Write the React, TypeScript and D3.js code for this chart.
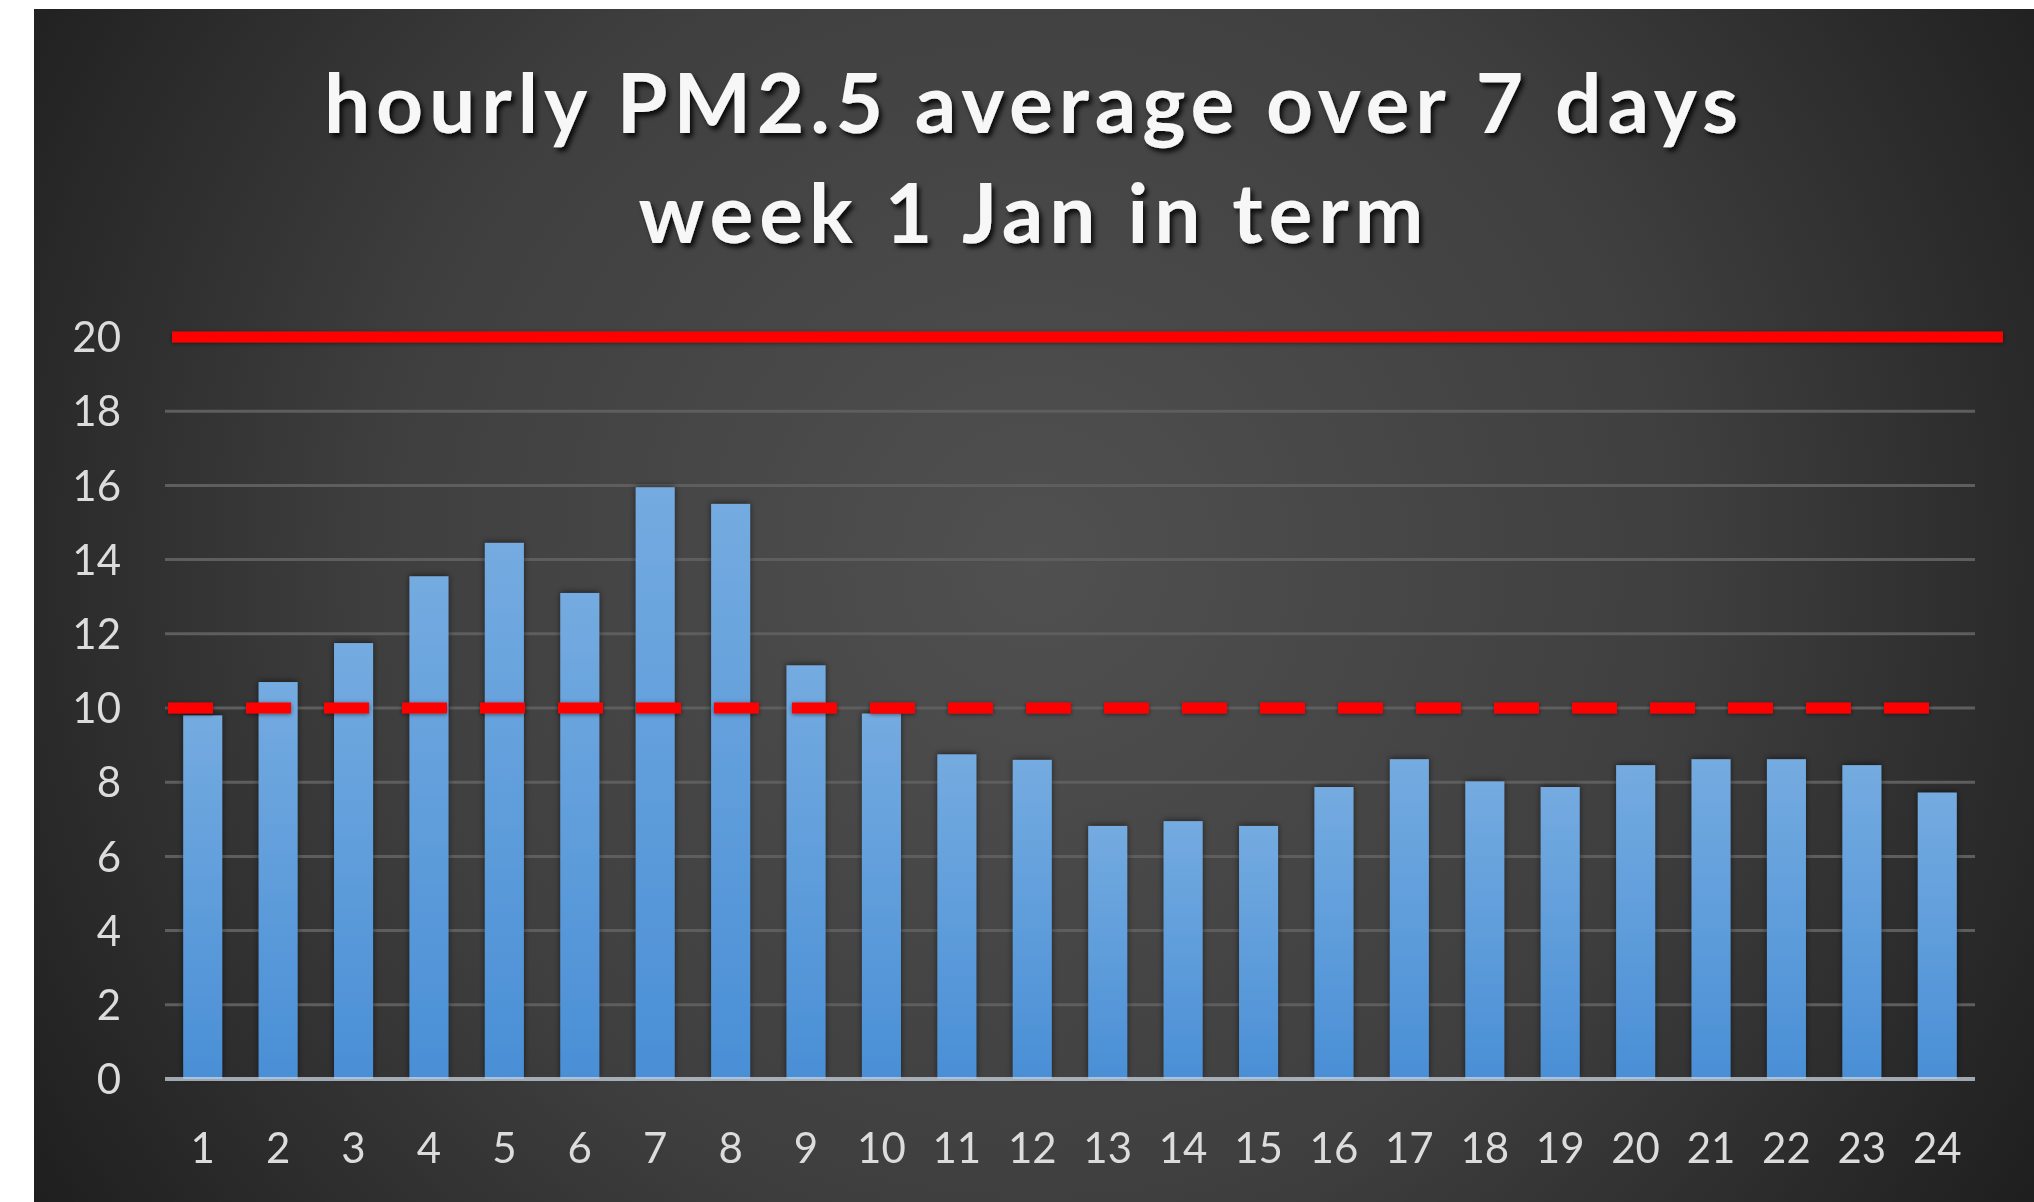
import React from 'react';
import * as d3 from 'd3';

// chart data
const titleLines = ['hourly PM2.5 average over 7 days', 'week 1 Jan in term'];
const hours = ['1', '2', '3', '4', '5', '6', '7', '8', '9', '10', '11', '12',
  '13', '14', '15', '16', '17', '18', '19', '20', '21', '22', '23', '24'];
const pm25 = [9.8, 10.7, 11.75, 13.55, 14.45, 13.1, 15.95, 15.5, 11.15, 9.85, 8.75, 8.6,
  6.82, 6.95, 6.82, 7.87, 8.62, 8.02, 7.87, 8.46, 8.62, 8.62, 8.46, 7.72];
const yTicks = [0, 2, 4, 6, 8, 10, 12, 14, 16, 18, 20];
const upperLimit = 20;   // solid red line
const lowerLimit = 10;   // dashed red line

const W = 2034;
const H = 1202;
const FONT = 'Lato, "Open Sans", sans-serif';

export default function App() {
  const x = d3.scaleBand<string>()
    .domain(hours)
    .range([165, 1975])
    .paddingInner(0.483)
    .paddingOuter(0.2415);

  const y = d3.scaleLinear().domain([0, 20]).range([1079, 337]);

  const [x0, x1] = x.range();
  const gridTicks = yTicks.filter(t => t !== 0 && t !== upperLimit);

  return (
    <svg width={W} height={H} style={{ position: 'fixed', left: 0, top: 0, display: 'block' }}>
      <defs>
        <radialGradient id="bg" gradientUnits="userSpaceOnUse" cx={1034} cy={560} r={1180}>
          <stop offset="0" stopColor="#505050" />
          <stop offset="0.55" stopColor="#3f3f3f" />
          <stop offset="1" stopColor="#1f1f1f" />
        </radialGradient>
        <linearGradient id="bar" x1="0" y1="0" x2="0" y2="1">
          <stop offset="0" stopColor="#74abe0" />
          <stop offset="1" stopColor="#4a8fd6" />
        </linearGradient>
        <filter id="txtShadow" x="-10%" y="-30%" width="120%" height="160%">
          <feDropShadow dx="3" dy="4" stdDeviation="2.5" floodColor="#000" floodOpacity="0.85" />
        </filter>
        <filter id="barShadow" x="-30%" y="-5%" width="160%" height="110%">
          <feDropShadow dx="0" dy="-1" stdDeviation="3" floodColor="#000" floodOpacity="0.55" />
        </filter>
        <filter id="lineGlow" x="-2%" y="-200%" width="104%" height="500%">
          <feDropShadow dx="0" dy="1" stdDeviation="2" floodColor="#000" floodOpacity="0.5" />
        </filter>
      </defs>

      {/* background */}
      <rect x={34} y={9} width={W - 34} height={H - 9} fill="url(#bg)" />

      {/* title */}
      <g filter="url(#txtShadow)" fill="#f7f7f7" fontFamily={FONT} fontWeight={700} fontSize={82} textAnchor="middle">
        <text x={1031} y={133} textLength={1414} lengthAdjust="spacing">{titleLines[0]}</text>
        <text x={1031} y={243} textLength={785} lengthAdjust="spacing">{titleLines[1]}</text>
      </g>

      {/* gridlines */}
      <g stroke="#5e5e5e" strokeWidth={3}>
        {gridTicks.map(t => (
          <line key={t} x1={x0} x2={x1} y1={y(t)} y2={y(t)} />
        ))}
      </g>

      {/* bars */}
      <g filter="url(#barShadow)">
        {pm25.map((v, i) => (
          <rect
            key={hours[i]}
            x={x(hours[i])}
            y={y(v)}
            width={x.bandwidth()}
            height={y(0) - y(v)}
            fill="url(#bar)"
          />
        ))}
      </g>

      {/* x axis line */}
      <line x1={x0} x2={x1} y1={y(0)} y2={y(0)} stroke="#c8d4e0" strokeOpacity={0.75} strokeWidth={4} />

      {/* limit lines */}
      <g filter="url(#lineGlow)">
        <line x1={x0 + 7} x2={x1 + 28} y1={y(upperLimit)} y2={y(upperLimit)} stroke="#ff0000" strokeWidth={11} />
        <line x1={x0 + 3} x2={x1 - 13} y1={y(lowerLimit)} y2={y(lowerLimit)} stroke="#ff0000" strokeWidth={11}
          strokeDasharray="45 33" />
      </g>

      {/* y tick labels */}
      <g fill="#dcdcdc" fontFamily={FONT} fontSize={42} textAnchor="end">
        {yTicks.map(t => (
          <text key={t} x={121} y={y(t)} dy="0.36em">{t}</text>
        ))}
      </g>

      {/* x tick labels */}
      <g fill="#dcdcdc" fontFamily={FONT} fontSize={42} textAnchor="middle">
        {hours.map(h => (
          <text key={h} x={(x(h) ?? 0) + x.bandwidth() / 2} y={1163}>{h}</text>
        ))}
      </g>
    </svg>
  );
}
